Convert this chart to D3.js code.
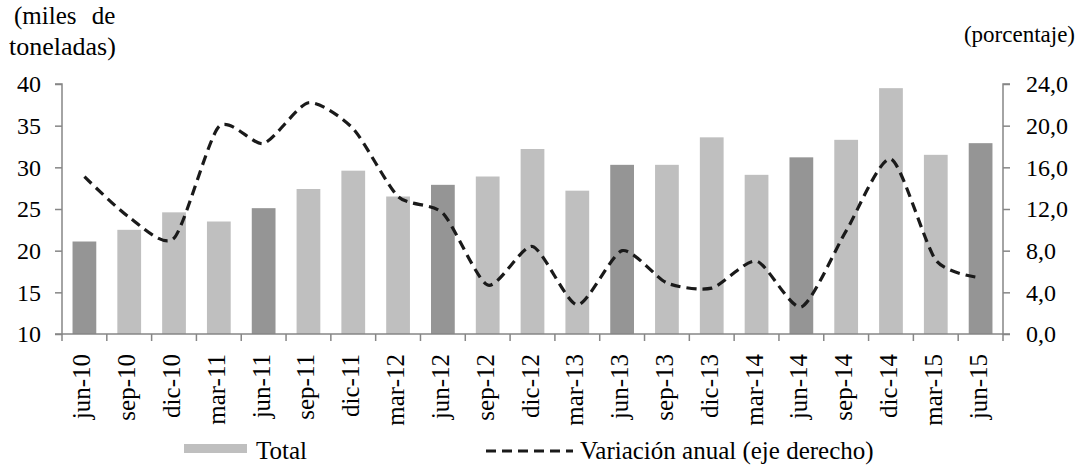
<!DOCTYPE html>
<html>
<head>
<meta charset="utf-8">
<script src="https://cdn.jsdelivr.net/npm/d3@7"></script>
<style>
  body { margin: 0; background: #fff; }
  svg text { font-family: "Times New Roman", "Liberation Serif", Tinos, "DejaVu Serif", serif; fill: #000; }
</style>
</head>
<body>
<svg id="chart"></svg>
<script>
// periods (quarterly)
var periods = ["jun-10","sep-10","dic-10","mar-11","jun-11","sep-11","dic-11","mar-12","jun-12","sep-12","dic-12",
               "mar-13","jun-13","sep-13","dic-13","mar-14","jun-14","sep-14","dic-14","mar-15","jun-15"];
// Total, miles de toneladas
var total = [21.1, 22.5, 24.6, 23.5, 25.1, 27.4, 29.6, 26.5, 27.9, 28.9, 32.2,
             27.2, 30.3, 30.3, 33.6, 29.1, 31.2, 33.3, 39.5, 31.5, 32.9];
// variacion anual, %
var variacion = [15.1, 11.2, 9.2, 19.9, 18.3, 22.2, 19.7, 13.2, 11.6, 4.7, 8.4,
                 2.8, 8.0, 4.9, 4.4, 7.0, 2.6, 9.9, 16.8, 7.1, 5.4];
var leftTicks = [10, 15, 20, 25, 30, 35, 40];
var rightTicks = [0, 4, 8, 12, 16, 20, 24];

var width = 1077, height = 466;
var margin = {top: 84, right: 74, bottom: 132, left: 62};

var svg = d3.select('#chart')
  .attr('width', width)
  .attr('height', height);

var x = d3.scaleBand()
  .domain(periods)
  .range([margin.left, width - margin.right])
  .paddingInner(0.47)
  .paddingOuter(0.235);

var xb = d3.scaleBand().domain(periods).range([margin.left, width - margin.right]);

var yL = d3.scaleLinear().domain([10, 40]).range([height - margin.bottom, margin.top]);
var yR = d3.scaleLinear().domain([0, 24]).range([height - margin.bottom, margin.top]);

var axisColor = '#868686';

// bars
svg.append('g').selectAll('rect')
  .data(periods)
  .enter()
  .append('rect')
  .attr('x', d => x(d))
  .attr('width', x.bandwidth())
  .attr('y', (d, i) => yL(total[i]))
  .attr('height', (d, i) => yL(10) - yL(total[i]))
  .attr('fill', d => d.indexOf('jun') === 0 ? '#959595' : '#bfbfbf');

// axes
var fmt = d3.format('.1f');
var gl = svg.append('g')
  .attr('transform', 'translate(' + margin.left + ',0)')
  .call(d3.axisLeft(yL).tickValues(leftTicks).tickSize(7).tickPadding(14));
var gr = svg.append('g')
  .attr('transform', 'translate(' + (width - margin.right) + ',0)')
  .call(d3.axisRight(yR).tickValues(rightTicks).tickSize(7).tickPadding(16)
    .tickFormat(d => fmt(d).replace('.', ',')));

// x axis with ticks at band boundaries
var gx = svg.append('g')
  .attr('transform', 'translate(0,' + (height - margin.bottom) + ')');
gx.append('line')
  .attr('x1', margin.left).attr('x2', width - margin.right)
  .attr('stroke', axisColor).attr('stroke-width', 1.5);
gx.selectAll('line.tk')
  .data(periods.concat(['end']))
  .enter()
  .append('line')
  .attr('class', 'tk')
  .attr('x1', (d, i) => margin.left + i * xb.step())
  .attr('x2', (d, i) => margin.left + i * xb.step())
  .attr('y1', 0).attr('y2', 7)
  .attr('stroke', axisColor).attr('stroke-width', 1.5);
gx.selectAll('text')
  .data(periods)
  .enter()
  .append('text')
  .attr('transform', d => 'translate(' + (xb(d) + xb.bandwidth() / 2 + 6) + ',20) rotate(-90)')
  .attr('text-anchor', 'end')
  .style('font-size', '25px')
  .text(d => d);

[gl, gr].forEach(g => {
  g.attr('font-family', null);
  g.select('.domain').attr('stroke', axisColor).attr('stroke-width', 1.5);
  g.selectAll('.tick line').attr('stroke', axisColor).attr('stroke-width', 1.5);
  g.selectAll('.tick text').style('font-size', '24px').attr('fill', '#000');
});
gl.select('.domain').attr('d', 'M-7,' + yL(40) + 'H0V' + yL(10) + 'H-7');
gr.select('.domain').attr('d', 'M7,' + yR(24) + 'H0V' + yR(0) + 'H7');

// line
var line = d3.line()
  .x((d, i) => xb(periods[i]) + xb.bandwidth() / 2)
  .y(d => yR(d))
  .curve(d3.curveCardinal.tension(0.3));

svg.append('path')
  .datum(variacion)
  .attr('d', line)
  .attr('fill', 'none')
  .attr('stroke', '#1a1a1a')
  .attr('stroke-width', 3.2)
  .attr('stroke-dasharray', '10,6');

// axis titles
svg.append('text').attr('x', 14).attr('y', 24).style('font-size', '25px')
  .style('word-spacing', '9px').text('(miles de');
svg.append('text').attr('x', 9).attr('y', 55).style('font-size', '26px').text('toneladas)');
svg.append('text').attr('x', 1075).attr('y', 42).attr('text-anchor', 'end')
  .style('font-size', '23px').text('(porcentaje)');

// legend
var lg = svg.append('g');
lg.append('rect').attr('x', 184).attr('y', 444).attr('width', 63).attr('height', 9).attr('fill', '#bfbfbf');
lg.append('text').attr('x', 256).attr('y', 459).style('font-size', '25px').text('Total');
lg.append('line').attr('x1', 486).attr('x2', 573).attr('y1', 451).attr('y2', 451)
  .attr('stroke', '#1a1a1a').attr('stroke-width', 3.2).attr('stroke-dasharray', '10,6');
lg.append('text').attr('x', 580).attr('y', 459).style('font-size', '25px').text('Variación anual (eje derecho)');
</script>
</body>
</html>
